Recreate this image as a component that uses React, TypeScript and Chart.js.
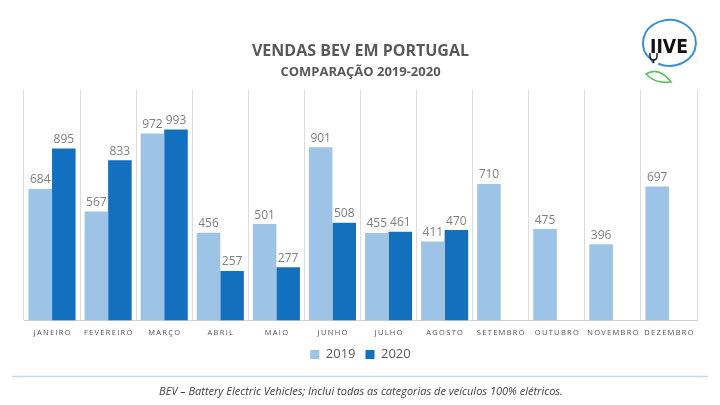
import React, { useEffect, useRef } from "react";
import { Chart, registerables } from "chart.js";

Chart.register(...registerables);

const categories = ["JANEIRO", "FEVEREIRO", "MARÇO", "ABRIL", "MAIO", "JUNHO", "JULHO", "AGOSTO", "SETEMBRO", "OUTUBRO", "NOVEMBRO", "DEZEMBRO"];
const sales2019: (number | null)[] = [684, 567, 972, 456, 501, 901, 455, 411, 710, 475, 396, 697];
const sales2020: (number | null)[] = [895, 833, 993, 257, 277, 508, 461, 470, null, null, null, null];
const seriesNames = ["2019", "2020"];
const yMax = 1200;
const titleText = "VENDAS BEV EM PORTUGAL";
const subtitleText = "COMPARAÇÃO 2019-2020";
const footnoteText = "BEV – Battery Electric Vehicles; Inclui todas as categorias de veículos 100% elétricos.";

const FONT = "'Open Sans', 'DejaVu Sans', sans-serif";
const GRAY = "#595959";

const tickLabelPlugin = {
  id: "tickLabels",
  afterDraw(chart: any) {
    const ctx = chart.ctx;
    const xs = chart.scales.x;
    ctx.save();
    ctx.font = `7.5px ${FONT}`;
    (ctx as any).letterSpacing = "1.3px";
    ctx.fillStyle = "#505050";
    ctx.textAlign = "center";
    ctx.textBaseline = "middle";
    categories.forEach((c, i) => {
      const x = xs.getPixelForTick(i);
      ctx.fillText(c, x + 0.65, chart.chartArea.bottom + 12);
    });
    ctx.restore();
  },
};

const valueLabelPlugin = {
  id: "valueLabels",
  afterDatasetsDraw(chart: any) {
    const ctx = chart.ctx;
    ctx.save();
    ctx.font = `12px ${FONT}`;
    ctx.fillStyle = "#7f7f7f";
    ctx.textAlign = "center";
    ctx.textBaseline = "bottom";
    chart.data.datasets.forEach((ds: any, di: number) => {
      const meta = chart.getDatasetMeta(di);
      meta.data.forEach((el: any, i: number) => {
        const v = ds.data[i];
        if (v === null || v === undefined) return;
        ctx.fillText(String(v), el.x, el.y - 3);
      });
    });
    ctx.restore();
  },
};

const footnotePlugin = {
  id: "footnote",
  afterDraw(chart: any) {
    const ctx = chart.ctx;
    ctx.save();
    ctx.strokeStyle = "#c9d9ee";
    ctx.lineWidth = 1.5;
    ctx.beginPath();
    ctx.moveTo(12, 376.5);
    ctx.lineTo(708, 376.5);
    ctx.stroke();
    ctx.font = `italic 11px ${FONT}`;
    ctx.fillStyle = "#404040";
    ctx.textAlign = "center";
    ctx.textBaseline = "middle";
    ctx.fillText(footnoteText, 361, 392);
    ctx.restore();
  },
};

function Logo() {
  return (
    <svg width="70" height="80" viewBox="0 0 70 80" style={{ position: "absolute", left: 635, top: 12 }}>
      <path d="M 15.8 47.3 A 26.5 23 0 1 1 23.3 51.8" fill="none" stroke="#3a8fd6" strokeWidth="2" />
      <path d="M 15.8 47.3 Q 18 52 19 50" fill="none" stroke="#3a8fd6" strokeWidth="1.5" />
      <text x="34" y="41" textAnchor="middle" fontFamily="'DejaVu Sans', sans-serif" fontWeight="bold" fontSize="20" textLength="38" lengthAdjust="spacingAndGlyphs" fill="#111">IIVE</text>
      <path d="M 15 41 L 15 44 Q 15 48 18.5 48 Q 22 48 22 44 L 22 41" fill="none" stroke="#111" strokeWidth="1.4" />
      <path d="M 18.5 48 L 18.5 51" stroke="#111" strokeWidth="1.4" />
      <path d="M 11 62 Q 24 54 36 70 Q 20 72 11 62 Z" fill="none" stroke="#5cbf5c" strokeWidth="1.6" />
    </svg>
  );
}

export default function App() {
  const ref = useRef<HTMLCanvasElement | null>(null);
  useEffect(() => {
    if (!ref.current) return;
    const chart = new Chart(ref.current, {
      type: "bar",
      data: {
        labels: categories,
        datasets: [
          { label: seriesNames[0], data: sales2019, backgroundColor: "#9dc3e6", categoryPercentage: 0.84, barPercentage: 1.0 },
          { label: seriesNames[1], data: sales2020, backgroundColor: "#1370bf", categoryPercentage: 0.84, barPercentage: 1.0 },
        ],
      },
      options: {
        animation: false,
        responsive: false,
        maintainAspectRatio: false,
        layout: { padding: { top: 42, left: 24, right: 23, bottom: 34 } },
        scales: {
          x: {
            grid: { offset: true, color: "#dcdcdc", drawTicks: false, lineWidth: 1 },
            border: { color: "#d0d0d0" },
            ticks: { color: "rgba(0,0,0,0)", font: { size: 8, family: FONT }, padding: 4, maxRotation: 0, autoSkip: false },
          },
          y: { display: false, min: 0, max: yMax },
        },
        plugins: {
          title: {
            display: true,
            text: titleText,
            color: GRAY,
            font: { size: 16, weight: "bold", family: FONT },
            padding: { top: 0, bottom: 2 },
          },
          subtitle: {
            display: true,
            text: subtitleText,
            color: GRAY,
            font: { size: 13, weight: "bold", family: FONT },
            padding: { top: 1, bottom: 10 },
          },
          legend: {
            position: "bottom",
            labels: {
              color: GRAY,
              font: { size: 13, family: FONT },
              boxWidth: 9,
              boxHeight: 9,
              padding: 10,
            },
          },
          tooltip: { enabled: false },
        },
      },
      plugins: [tickLabelPlugin, valueLabelPlugin, footnotePlugin],
    });
    return () => chart.destroy();
  }, []);
  return (
    <div style={{ position: "fixed", left: 0, top: 0, width: 720, height: 405, background: "#fff" }}>
      <canvas ref={ref} width={720} height={405} style={{ width: 720, height: 405, display: "block" }} />
      <Logo />
    </div>
  );
}
